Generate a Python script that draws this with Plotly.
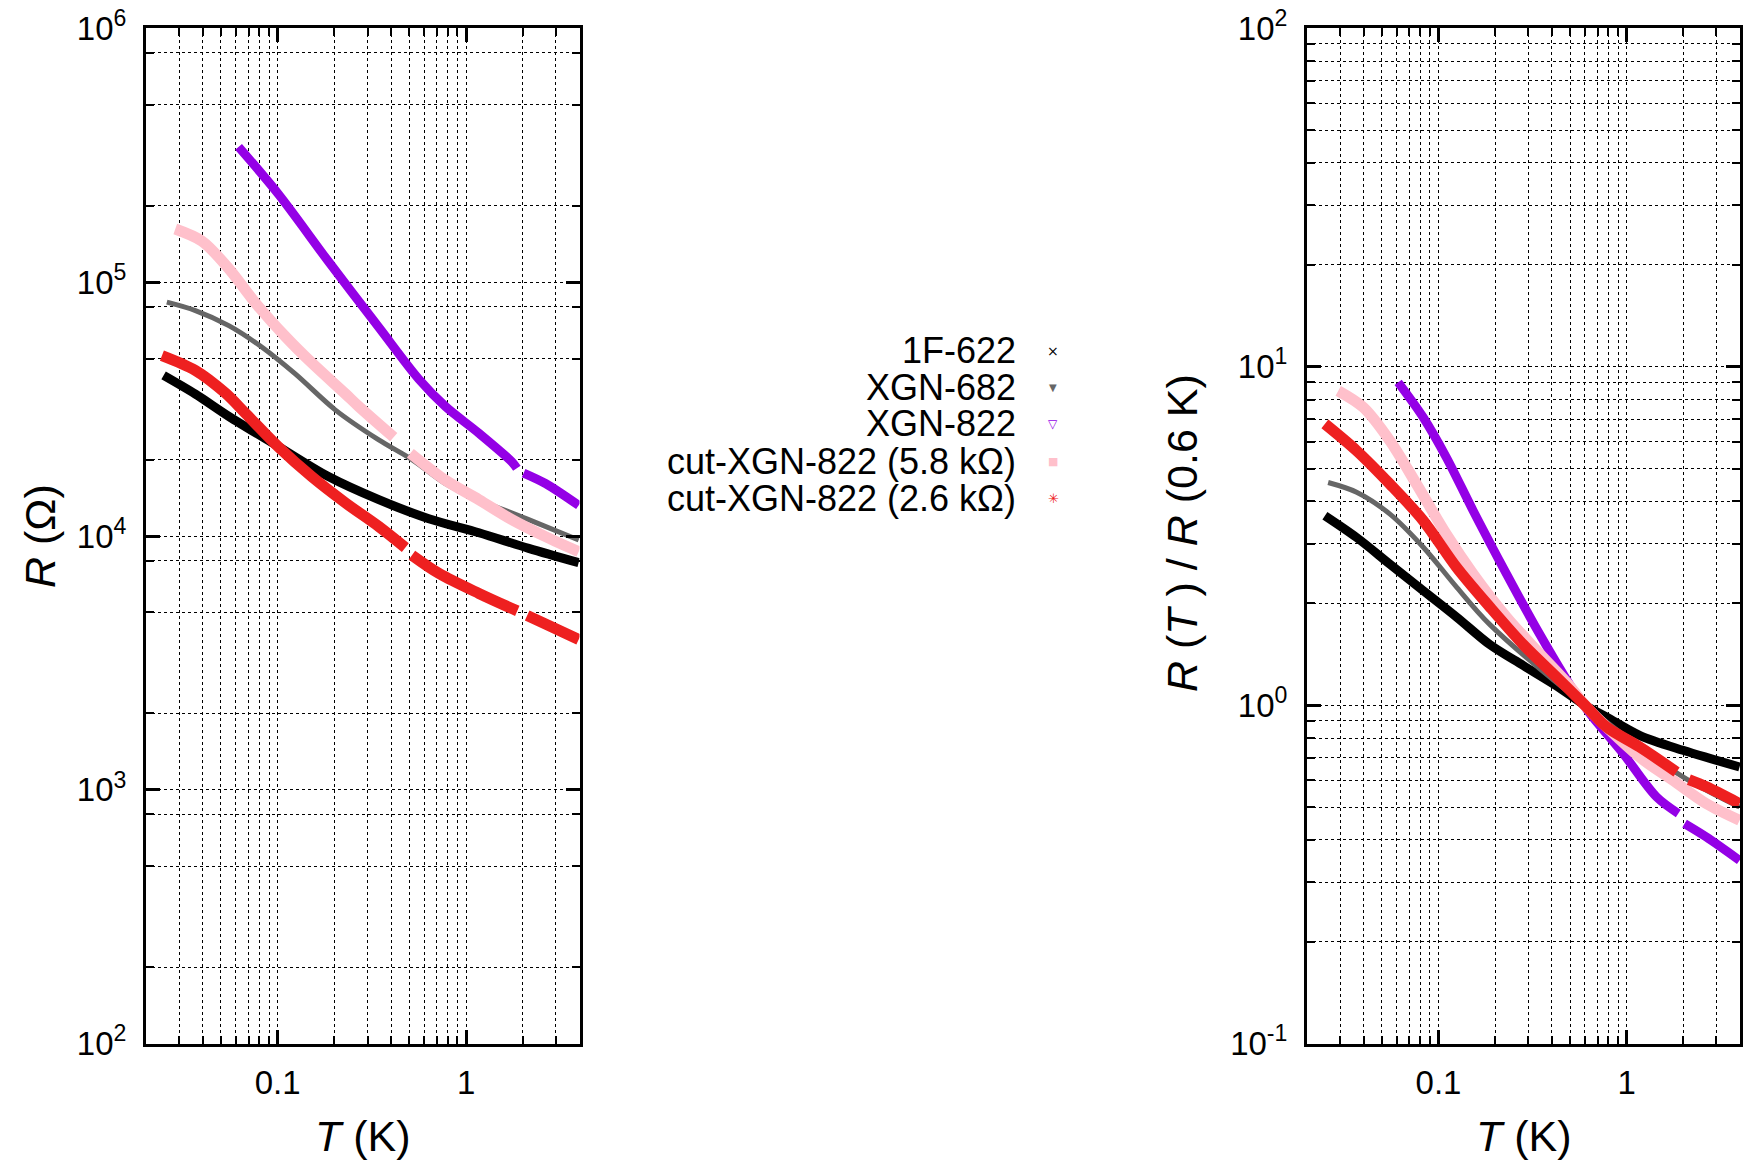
import numpy as np
import plotly.graph_objects as go

# ---------------- data ----------------
SERIES_NAMES = ["1F-622", "XGN-682", "XGN-822", "cut-XGN-822 (5.8 kΩ)", "cut-XGN-822 (2.6 kΩ)"]
SERIES_COLORS = ["#000000", "#666666", "#9400E6", "#FFC0CB", "#EE2020"]
SERIES_WIDTHS = [9, 5, 9, 11, 11]
LEGEND_GLYPHS = ["×", "▼", "▽", "■", "✳"]

# Left panel: R (Ohm) vs T (K)
T_1F622 = [0.0248, 0.0366, 0.055, 0.101, 0.187, 0.344, 0.634, 1.17, 2.15, 3.96]
R_1F622 = [4.29e4, 3.62e4, 2.96e4, 2.25e4, 1.71e4, 1.39e4, 1.17e4, 1.03e4, 8.94e3, 7.85e3]

T_XGN682 = [0.0258, 0.0366, 0.055, 0.0826, 0.124, 0.202, 0.344, 0.516, 0.776, 1.17, 2.15, 3.96]
R_XGN682 = [8.34e4, 7.73e4, 6.74e4, 5.54e4, 4.35e4, 3.14e4, 2.39e4, 2.0e4, 1.61e4, 1.39e4, 1.16e4, 9.64e3]

T_XGN822 = [0.062, 0.101, 0.187, 0.344, 0.561, 0.776, 1.17, 1.75, 1.86, None, 2.02, 2.64, 3.96]
R_XGN822 = [3.41e5, 2.22e5, 1.20e5, 6.64e4, 4.15e4, 3.24e4, 2.54e4, 1.96e4, 1.85e4, None, 1.77e4, 1.61e4, 1.32e4]

T_CUT58 = [0.0286, 0.0397, 0.055, 0.076, 0.11, 0.152, 0.229, 0.269, 0.413, None,
           0.506, 0.776, 1.17, 1.75, 2.64, 3.96]
R_CUT58 = [1.62e5, 1.45e5, 1.13e5, 8.3e4, 6.1e4, 4.8e4, 3.63e4, 3.24e4, 2.45e4, None,
           2.12e4, 1.66e4, 1.39e4, 1.16e4, 9.94e3, 8.67e3]

T_CUT26 = [0.0243, 0.0366, 0.0527, 0.0673, 0.101, 0.152, 0.229, 0.344, 0.476, None,
           0.516, 0.716, 1.17, 1.87, None, 2.11, 2.64, 3.96]
R_CUT26 = [5.14e4, 4.49e4, 3.66e4, 3.05e4, 2.24e4, 1.71e4, 1.35e4, 1.09e4, 9.0e3, None,
           8.4e3, 7.13e3, 5.94e3, 5.07e3, None, 4.86e3, 4.5e3, 3.91e3]

# Right panel: R(T)/R(0.6 K) vs T (K)
TN_1F622 = [0.0249, 0.0367, 0.0552, 0.083, 0.125, 0.1875, 0.282, 0.424, 0.6, 0.78, 1.17, 1.99, 3.98]
N_1F622 = [3.63, 3.13, 2.61, 2.18, 1.82, 1.51, 1.31, 1.14, 1.0, 0.924, 0.815, 0.736, 0.657]

TN_XGN682 = [0.0259, 0.0367, 0.0552, 0.083, 0.125, 0.1875, 0.6, 1.99, 3.98]
N_XGN682 = [4.55, 4.26, 3.67, 2.93, 2.23, 1.73, 1.0, 0.614, 0.5]

TN_XGN822 = [0.061, 0.083, 0.110, 0.153, 0.23, 0.345, 0.519, 0.637, 0.957, 1.44, 1.88, None, 2.03, 2.65, 3.98]
N_XGN822 = [8.99, 7.08, 5.4, 3.75, 2.44, 1.62, 1.11, 0.945, 0.72, 0.536, 0.479, None, 0.447, 0.408, 0.348]

TN_CUT58 = [0.0293, 0.0398, 0.0552, 0.0764, 0.110, 0.153, 0.23, 0.345, 0.498, 0.6, 1.17, 1.76, 2.65, 3.98]
N_CUT58 = [8.49, 7.59, 6.04, 4.5, 3.2, 2.44, 1.82, 1.42, 1.14, 1.0, 0.703, 0.6, 0.512, 0.457]

TN_CUT26 = [0.0249, 0.0367, 0.0552, 0.083, 0.125, 0.1875, 0.282, 0.424, 0.6, 0.78, 1.17, 1.84, None, 2.14, 2.65, 3.98]
N_CUT26 = [6.78, 5.65, 4.5, 3.51, 2.55, 1.95, 1.51, 1.21, 1.0, 0.863, 0.753, 0.635, None, 0.603, 0.574, 0.512]

# axes ticks
X_MAJOR = [0.1, 1]
X_MAJOR_LABELS = ["0.1", "1"]
X_MINOR = [0.03, 0.04, 0.05, 0.06, 0.07, 0.08, 0.09, 0.2, 0.3, 0.4, 0.5, 0.6, 0.7, 0.8, 0.9, 2, 3]
X_RANGE = [0.02, 4]

YL_MAJOR = [1e2, 1e3, 1e4, 1e5, 1e6]
YL_MAJOR_LABELS = ["10<sup>2</sup>", "10<sup>3</sup>", "10<sup>4</sup>", "10<sup>5</sup>", "10<sup>6</sup>"]
YL_MINOR = [2e2, 5e2, 8e2, 2e3, 5e3, 8e3, 2e4, 5e4, 8e4, 2e5, 5e5, 8e5]
YL_RANGE = [1e2, 1e6]

YR_MAJOR = [0.1, 1, 10, 100]
YR_MAJOR_LABELS = ["10<sup>-1</sup>", "10<sup>0</sup>", "10<sup>1</sup>", "10<sup>2</sup>"]
YR_MINOR = [m * d for d in (0.1, 1, 10) for m in range(2, 10)]
YR_RANGE = [0.1, 100]

LEFT_DATA = [(T_1F622, R_1F622), (T_XGN682, R_XGN682), (T_XGN822, R_XGN822),
             (T_CUT58, R_CUT58), (T_CUT26, R_CUT26)]
RIGHT_DATA = [(TN_1F622, N_1F622), (TN_XGN682, N_XGN682), (TN_XGN822, N_XGN822),
              (TN_CUT58, N_CUT58), (TN_CUT26, N_CUT26)]

FONT = "Liberation Sans, Arial, Helvetica, sans-serif"
W, H = 1752, 1167

fig = go.Figure()
for i, name in enumerate(SERIES_NAMES):
    tx, ry = LEFT_DATA[i]
    fig.add_trace(go.Scatter(x=tx, y=ry, mode="lines", name=name, showlegend=False,
                             line=dict(color=SERIES_COLORS[i], width=SERIES_WIDTHS[i], shape="spline", smoothing=0.9),
                             xaxis="x", yaxis="y"))
    tx, ny = RIGHT_DATA[i]
    fig.add_trace(go.Scatter(x=tx, y=ny, mode="lines", name=name, showlegend=False,
                             line=dict(color=SERIES_COLORS[i], width=SERIES_WIDTHS[i], shape="spline", smoothing=0.9),
                             xaxis="x2", yaxis="y2"))

GRID = dict(showgrid=True, gridcolor="black", gridwidth=1, griddash="3px,3px")


def axis(rng, major, labels, minor, domain, anchor, standoff):
    d = dict(type="log", range=[np.log10(rng[0]), np.log10(rng[1])], domain=domain, anchor=anchor,
             tickmode="array", tickvals=major, ticktext=labels,
             ticks="inside", ticklen=14, tickwidth=3, tickcolor="black",
             showline=True, linecolor="black", linewidth=3, mirror="allticks",
             zeroline=False, automargin=False, fixedrange=True,
             tickfont=dict(family=FONT, size=33, color="black"),
             ticklabelstandoff=standoff,
             minor=dict(tickmode="array", tickvals=minor, ticks="inside", ticklen=8, tickwidth=2,
                        tickcolor="black", **GRID),
             layer="above traces",
             **GRID)
    return d


Y_DOM = [1 - 1043.7 / H, 1 - 28.3 / H]
XL_DOM = [146 / W, 579.5 / W]
XR_DOM = [1307 / W, 1740 / W]

fig.update_layout(
    width=W, height=H,
    margin=dict(l=0, r=0, t=0, b=0),
    paper_bgcolor="white", plot_bgcolor="white",
    showlegend=False,
    font=dict(family=FONT, color="black"),
    xaxis=axis(X_RANGE, X_MAJOR, X_MAJOR_LABELS, X_MINOR, XL_DOM, "y", 8),
    yaxis=axis(YL_RANGE, YL_MAJOR, YL_MAJOR_LABELS, YL_MINOR, Y_DOM, "x", 10),
    xaxis2=axis(X_RANGE, X_MAJOR, X_MAJOR_LABELS, X_MINOR, XR_DOM, "y2", 8),
    yaxis2=axis(YR_RANGE, YR_MAJOR, YR_MAJOR_LABELS, YR_MINOR, Y_DOM, "x2", 10),
)

ann = []
TITLE_FONT = dict(family=FONT, size=43, color="black")
ann.append(dict(text="<i>T</i> (K)", x=(XL_DOM[0] + XL_DOM[1]) / 2, y=1 - 1136 / H, xref="paper", yref="paper",
                showarrow=False, font=TITLE_FONT, xanchor="center", yanchor="middle"))
ann.append(dict(text="<i>T</i> (K)", x=(XR_DOM[0] + XR_DOM[1]) / 2, y=1 - 1136 / H, xref="paper", yref="paper",
                showarrow=False, font=TITLE_FONT, xanchor="center", yanchor="middle"))
ann.append(dict(text="<i>R</i> (Ω)", x=40 / W, y=1 - 536 / H, xref="paper", yref="paper", textangle=-90,
                showarrow=False, font=TITLE_FONT, xanchor="center", yanchor="middle"))
ann.append(dict(text="<i>R</i> (<i>T</i> ) / <i>R</i> (0.6 K)", x=1182 / W, y=1 - 533 / H, xref="paper",
                yref="paper", textangle=-90, showarrow=False, font=TITLE_FONT, xanchor="center", yanchor="middle"))

LEG_Y = [351, 387, 424, 461, 498]
GLYPH_SIZES = [14, 10, 12, 11, 13]
for i, name in enumerate(SERIES_NAMES):
    ann.append(dict(text=name, x=1017 / W, y=1 - LEG_Y[i] / H, xref="paper", yref="paper", showarrow=False,
                    font=dict(family=FONT, size=36, color="black"), xanchor="right", yanchor="middle",
                    borderpad=0))
    ann.append(dict(text=LEGEND_GLYPHS[i], x=1053 / W, y=1 - LEG_Y[i] / H, xref="paper", yref="paper",
                    showarrow=False, font=dict(family="DejaVu Sans", size=GLYPH_SIZES[i], color=SERIES_COLORS[i]),
                    xanchor="center", yanchor="middle"))
fig.update_layout(annotations=ann)

fig.write_html("out.html", config={"displayModeBar": False, "staticPlot": True},
               post_script="document.body.style.margin='0';document.body.style.overflow='hidden';")
